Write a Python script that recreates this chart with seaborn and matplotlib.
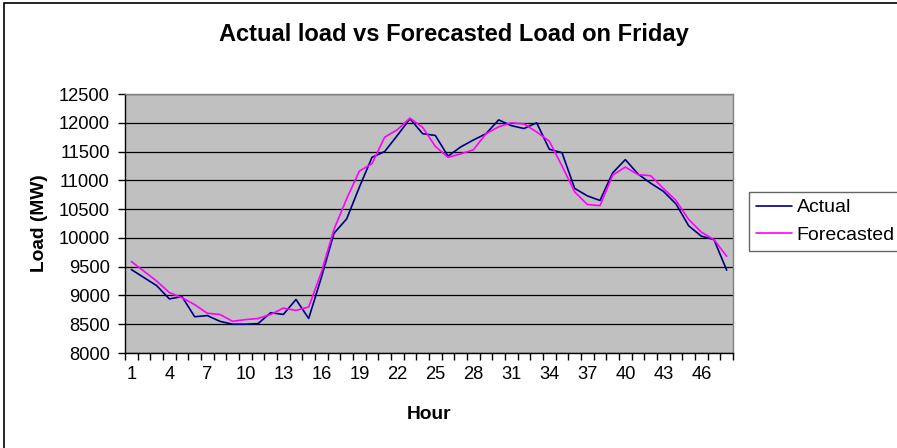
import numpy as np
import pandas as pd
import seaborn as sns
import matplotlib.pyplot as plt
from matplotlib.patches import Rectangle
from matplotlib.ticker import MultipleLocator, FixedLocator

hours = list(range(1, 49))
actual = [9450, 9310, 9170, 8940, 8980, 8630, 8650, 8550, 8500, 8500,
          8510, 8700, 8670, 8930, 8600, 9310, 10080, 10330, 10880, 11400,
          11500, 11780, 12070, 11810, 11780, 11420, 11580, 11700, 11810, 12050,
          11950, 11900, 12000, 11540, 11480, 10860, 10730, 10650, 11130, 11360,
          11110, 10950, 10810, 10590, 10210, 10030, 9970, 9440]
forecast = [9590, 9420, 9250, 9050, 8960, 8840, 8690, 8670, 8550, 8580,
            8600, 8670, 8780, 8740, 8800, 9400, 10150, 10680, 11160, 11290,
            11750, 11880, 12080, 11920, 11590, 11400, 11460, 11530, 11810, 11930,
            12000, 11980, 11840, 11680, 11250, 10800, 10580, 10560, 11090, 11230,
            11100, 11080, 10860, 10650, 10320, 10100, 9970, 9680]
tick_hours = list(range(1, 49, 3))

df = pd.DataFrame({
    "Hour": hours * 2,
    "Load": actual + forecast,
    "series": ["Actual"] * len(hours) + ["Forecasted"] * len(hours),
})

sns.set_style("white")
plt.rcParams["font.family"] = ["Liberation Sans", "DejaVu Sans"]
plt.rcParams["text.color"] = "black"
plt.rcParams["xtick.color"] = "black"
plt.rcParams["ytick.color"] = "black"

fig = plt.figure(figsize=(8.97, 4.48), dpi=100)
ax = fig.add_axes([125 / 897, 1 - 353 / 448, 608 / 897, 259 / 448])

sns.lineplot(data=df, x="Hour", y="Load", hue="series",
             palette={"Actual": "#000080", "Forecasted": "#FF00FF"},
             linewidth=1.2, ax=ax)

ax.set_facecolor("#C0C0C0")
ax.set_xlim(0.5, 48.5)
ax.set_ylim(8000, 12500)
ax.yaxis.set_major_locator(MultipleLocator(500))
ax.grid(axis="y", color="black", linewidth=0.9)
ax.set_axisbelow(True)

# labels at hour centres, tick marks between categories
ax.xaxis.set_major_locator(FixedLocator(tick_hours))
ax.xaxis.set_minor_locator(FixedLocator(np.arange(0.5, 49, 1)))
ax.tick_params(axis="x", which="major", length=0, pad=9, labelsize=13.2)
ax.tick_params(axis="x", which="minor", length=5, width=1, color="black",
               direction="out", bottom=True)
ax.tick_params(axis="y", length=5, width=1, color="black", direction="out",
               left=True, pad=6, labelsize=13.2)

for side in ["left", "bottom"]:
    ax.spines[side].set_color("black")
    ax.spines[side].set_linewidth(1)
for side in ["top", "right"]:
    ax.spines[side].set_visible(True)
    ax.spines[side].set_color("#808080")
    ax.spines[side].set_linewidth(1)

ax.set_xlabel("")
ax.set_ylabel("")
fig.text(429 / 897, 1 - 414 / 448, "Hour", ha="center", va="center",
         fontsize=13.8, fontweight="bold")
fig.text(40 / 897, 1 - 223 / 448, "Load (MW)", ha="center", va="center",
         rotation=90, fontsize=13.8, fontweight="bold")
fig.text(454 / 897, 1 - 34 / 448, "Actual load vs Forecasted Load on Friday",
         ha="center", va="center", fontsize=17, fontweight="bold")

handles, labels = ax.get_legend_handles_labels()
ax.get_legend().remove()
leg = fig.legend(handles, labels, loc="upper left",
                 bbox_to_anchor=(749 / 897, 1 - 192 / 448),
                 bbox_transform=fig.transFigure, frameon=True, fancybox=False,
                 fontsize=14, handlelength=1.85, handletextpad=0.25,
                 labelspacing=0.5, borderpad=0.35, borderaxespad=0)
leg.get_frame().set_edgecolor("#404040")
leg.get_frame().set_linewidth(1)

# chart area border (cut off at right and bottom in the reference)
fig.patches.append(Rectangle((4 / 897, -0.1), 1.2, 1.1 - 3 / 448,
                             transform=fig.transFigure, fill=False,
                             edgecolor="black", linewidth=1.2))

fig.savefig("out.png", dpi=100)
